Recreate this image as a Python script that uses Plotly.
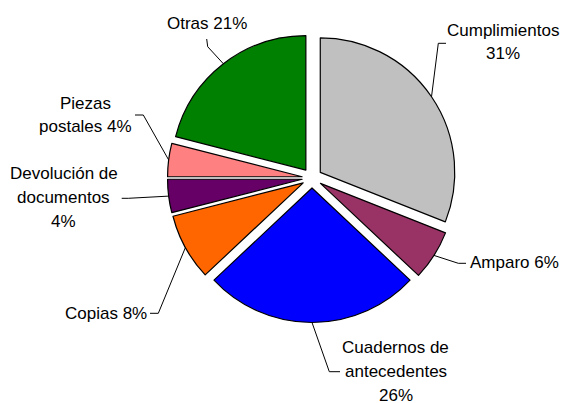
import math
import plotly.graph_objects as go

# ---- data ----
labels = ["Cumplimientos", "Amparo", "Cuadernos de antecedentes", "Copias",
          "Devolución de documentos", "Piezas postales", "Otras"]
values = [31, 6, 26, 8, 4, 4, 21]
colors = ["#C0C0C0", "#993366", "#0000FF", "#FF6600", "#660066", "#FF8080", "#008000"]
label_prefix = ["Cumplimientos<br>", "Amparo ", "Cuadernos de<br>antecedentes<br>", "Copias ",
                "Devolución de<br>documentos<br>", "Piezas<br>postales ", "Otras "]

# ---- layout (pixels) ----
W, H = 561, 403
CX, CY, R = 312.0, 178.0, 134.5
PULL = 10.0 / R
FONT = dict(family="Liberation Sans, Arial, sans-serif", size=17, color="black")
LINE_SP = 24.0
# (label x, first line y, xanchor, elbow point, leader end point)
label_layout = [
    (503, 30, "center", (438.3, 43.3), (446, 43.3)),
    (468, 262.5, "left", (458.3, 263.3), (466, 263.3)),
    (395.5, 347.8, "center", (329.3, 371.7), (340, 371.7)),
    (148.5, 313, "right", (158.3, 313.3), (150, 313.3)),
    (64, 173.5, "center", (128.3, 198.3), (121.7, 198.3)),
    (85, 103, "center", (143.3, 115), (135, 115)),
    (207, 23.5, "center", (207.7, 46.7), (206.7, 39)),
]

half = R * (1 + PULL)
fig = go.Figure(go.Pie(
    labels=labels, values=values, sort=False, direction="clockwise", rotation=0,
    pull=[PULL] * len(values), textinfo="none", hoverinfo="label+percent",
    marker=dict(colors=colors, line=dict(color="black", width=1.2)),
    domain=dict(x=[(CX - half) / W, (CX + half) / W], y=[1 - (CY + half) / H, 1 - (CY - half) / H]),
    showlegend=False,
))

def px2paper(x, y):
    return x / W, 1 - y / H

total = sum(values)
cum = 0
shapes, annotations = [], []
for v, pre, (lx, ly, xa, elbow, end) in zip(values, label_prefix, label_layout):
    mid = (cum + v / 2) / total * 2 * math.pi
    cum += v
    ax = CX + half * math.sin(mid)
    ay = CY - half * math.cos(mid)
    p0 = px2paper(ax, ay)
    p1 = px2paper(*elbow)
    p2 = px2paper(*end)
    shapes.append(dict(type="path", xref="paper", yref="paper",
                       path=f"M {p0[0]},{p0[1]} L {p1[0]},{p1[1]} L {p2[0]},{p2[1]}",
                       line=dict(color="black", width=1)))
    text = pre + f"{round(v / total * 100)}%"
    for i, line in enumerate(text.split("<br>")):
        x, y = px2paper(lx, ly + i * LINE_SP)
        annotations.append(dict(x=x, y=y, xref="paper", yref="paper", text=line,
                                showarrow=False, xanchor=xa, yanchor="middle", font=FONT))

fig.update_layout(width=W, height=H, margin=dict(l=0, r=0, t=0, b=0),
                  paper_bgcolor="white", plot_bgcolor="white",
                  shapes=shapes, annotations=annotations)
fig.write_html("out.html", config={"displayModeBar": False},
               post_script="document.body.style.margin='0';document.body.style.overflow='hidden';")
